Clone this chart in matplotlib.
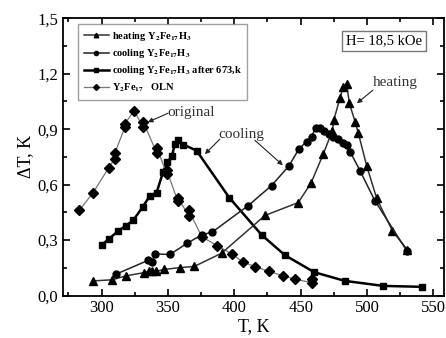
import matplotlib
matplotlib.use("Agg")
import matplotlib.pyplot as plt
from matplotlib.ticker import MultipleLocator, FuncFormatter

plt.rcParams['font.family'] = ['Liberation Serif', 'DejaVu Serif']
plt.rcParams['mathtext.fontset'] = 'stix'
plt.rcParams['mathtext.default'] = 'bf'

# OLN Y2Fe17 (diamonds)
T_oln = [283.2, 293.7, 305.5, 310, 310, 317.6, 317.6, 324.6, 331.4, 331.4, 341.7, 341.7,
         349, 349, 357.5, 357.5, 365.8, 365.8, 375.6, 387.2, 398, 406.3, 416, 426.4, 437, 445.7, 458.3, 458.3]
v_oln = [0.46, 0.557, 0.692, 0.74, 0.77, 0.91, 0.93, 1.0, 0.91, 0.94, 0.77, 0.80,
         0.66, 0.68, 0.51, 0.53, 0.43, 0.46, 0.317, 0.27, 0.225, 0.182, 0.155, 0.13, 0.106, 0.088, 0.07, 0.09]

# cooling Y2Fe17H3 after 673 K (squares)
T_sq = [300, 305.5, 312.6, 318.3, 323.9, 330.9, 336.4, 341.5, 346.5, 349.7, 353, 355.3, 357.8,
        361.6, 371.6, 396.2, 420.6, 438.2, 460.3, 483.4, 512.3, 541.2]
v_sq = [0.274, 0.305, 0.35, 0.377, 0.407, 0.478, 0.539, 0.557, 0.671, 0.721, 0.755, 0.82, 0.842,
        0.817, 0.784, 0.53, 0.328, 0.218, 0.126, 0.079, 0.052, 0.047]

# cooling Y2Fe17H3 (circles)
T_ci = [310.8, 335, 338, 340.2, 351.5, 364.6, 375.4, 383.4, 410.6, 428.1, 441.2, 448.7, 454.5,
        458.3, 461.3, 464.6, 467.8, 471.4, 474.6, 477.9, 482.2, 484.7, 487.2, 494.7, 506, 529.9]
v_ci = [0.115, 0.19, 0.18, 0.225, 0.222, 0.283, 0.328, 0.343, 0.487, 0.595, 0.701, 0.793, 0.833,
        0.86, 0.909, 0.909, 0.89, 0.873, 0.855, 0.849, 0.827, 0.813, 0.779, 0.676, 0.512, 0.243]

# heating Y2Fe17H3 (triangles)
T_tr = [293.7, 308, 318.1, 332.2, 335.7, 338.2, 341, 347, 359, 369.8, 390.5, 423.1, 448.2,
        457.8, 467.1, 473.9, 475, 479.6, 482.2, 484.7, 486.7, 491, 493.5, 499.7, 507.3, 519.1, 530.4]
v_tr = [0.079, 0.085, 0.106, 0.124, 0.132, 0.135, 0.13, 0.141, 0.151, 0.157, 0.229, 0.433, 0.503,
        0.608, 0.766, 0.892, 0.95, 1.067, 1.13, 1.143, 1.04, 0.941, 0.878, 0.703, 0.526, 0.35, 0.247]

labels = [r'heating Y$_2$Fe$_{17}$H$_3$',
          r'cooling Y$_2$Fe$_{17}$H$_3$',
          r'cooling Y$_2$Fe$_{17}$H$_3$ after 673,k',
          r'Y$_2$Fe$_{17}$   OLN']

fig = plt.figure(figsize=(4.46, 3.38), dpi=100)
ax = fig.add_axes([0.1413, 0.1257, 0.8542, 0.8202])

l1, = ax.plot(T_tr, v_tr, '-', color='#333333', lw=1.1, marker='^', ms=5.5,
              mfc='black', mec='black', label=labels[0], zorder=4)
l2, = ax.plot(T_ci, v_ci, '-', color='#222222', lw=1.1, marker='o', ms=5,
              mfc='black', mec='black', label=labels[1], zorder=4)
l3, = ax.plot(T_sq, v_sq, '-', color='black', lw=1.8, marker='s', ms=4.8,
              mfc='black', mec='black', label=labels[2], zorder=3)
l4, = ax.plot(T_oln, v_oln, '-', color='#777777', lw=0.9, marker='D', ms=5,
              mfc='black', mec='black', label=labels[3], zorder=3)

ax.set_xlim(271, 558)
ax.set_ylim(0, 1.5)
ax.xaxis.set_major_locator(MultipleLocator(50))
ax.xaxis.set_minor_locator(MultipleLocator(25))
ax.yaxis.set_major_locator(MultipleLocator(0.3))
ax.yaxis.set_minor_locator(MultipleLocator(0.15))
ax.yaxis.set_major_formatter(FuncFormatter(lambda v, p: f"{v:.1f}".replace('.', ',')))
ax.tick_params(which='both', direction='in', top=True, right=True, labelsize=12, width=1.2)
ax.tick_params(which='major', length=5)
ax.tick_params(which='minor', length=3)
for s in ax.spines.values():
    s.set_linewidth(1.3)

ax.set_xlabel('T, K', fontsize=13, labelpad=1)
ax.set_ylabel('ΔT, K', fontsize=13, labelpad=2)

leg = ax.legend(handles=[l1, l2, l3, l4], loc='upper left', bbox_to_anchor=(0.039, 0.978),
                borderaxespad=0, prop={'weight': 'bold', 'size': 7.5},
                frameon=True, fancybox=False, edgecolor='#888888', handlelength=2.4,
                handletextpad=0.3, labelspacing=0.4, markerscale=0.6, borderpad=0.55)
leg.get_frame().set_linewidth(1.0)

ax.text(0.8425, 0.919, 'H= 18,5 kOe', transform=ax.transAxes, ha='center', va='center',
        fontsize=10.5, bbox=dict(boxstyle='square,pad=0.25', fc='white', ec='#777777', lw=1.0))

ap = dict(arrowstyle='-|>', color='#222222', lw=0.8, mutation_scale=7, shrinkA=0, shrinkB=0)
ax.text(521, 1.151, 'heating', ha='center', va='center', fontsize=11, color='#333333')
ax.annotate('', xy=(492.4, 1.04), xytext=(504.4, 1.111), arrowprops=ap)
ax.text(367.3, 0.992, 'original', ha='center', va='center', fontsize=11, color='#333333')
ax.annotate('', xy=(334.9, 0.938), xytext=(350, 0.986), arrowprops=ap)
ax.text(405.6, 0.873, 'cooling', ha='center', va='center', fontsize=11, color='#333333')
ax.annotate('', xy=(377.9, 0.765), xytext=(389.1, 0.846), arrowprops=ap)
ax.annotate('', xy=(436.6, 0.705), xytext=(415.5, 0.84), arrowprops=ap)

fig.savefig('out.png', dpi=100)
